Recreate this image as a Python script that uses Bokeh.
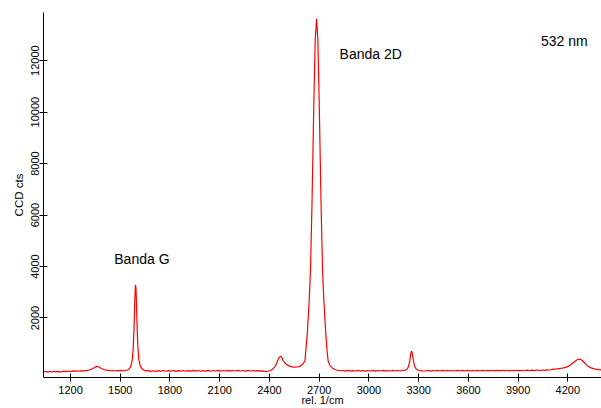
from bokeh.plotting import figure
from bokeh.models import FixedTicker, Label, Range1d
from bokeh.embed import file_html
from bokeh.resources import INLINE

# Raman spectrum (rel. 1/cm, CCD cts)
wavenumber = [
    1037, 1050, 1062, 1075, 1088, 1100, 1112, 1125, 1138, 1150, 1162, 1175, 1188, 1200,
    1212, 1225, 1238, 1250, 1262, 1275, 1288, 1300,
    1312, 1325, 1337, 1350, 1360, 1368, 1378, 1390, 1402, 1415, 1428, 1440, 1452, 1465,
    1478, 1490, 1502, 1515, 1528, 1540,
    1550, 1558, 1565, 1572, 1578, 1583, 1587, 1590, 1592, 1595, 1598, 1602, 1606, 1612,
    1620, 1630, 1642, 1655, 1670, 1685,
    1700, 1715, 1730, 1745, 1760, 1775, 1790, 1805, 1820, 1835, 1850, 1865, 1880, 1895,
    1910, 1925, 1940, 1955, 1970, 1985, 2000, 2015, 2030, 2045, 2060, 2075, 2090, 2105,
    2120, 2135, 2150, 2165, 2180, 2195, 2210, 2225, 2240, 2255, 2270, 2285, 2300, 2315,
    2330, 2345, 2360, 2375, 2390, 2402, 2412, 2422,
    2432, 2442, 2452, 2460, 2467, 2474, 2482, 2492, 2505, 2520, 2535, 2550, 2565, 2578,
    2590, 2600, 2614,
    2628, 2640, 2648, 2657, 2668, 2676, 2684, 2692, 2700, 2711, 2720, 2728, 2740, 2747,
    2754, 2765, 2780, 2795, 2810, 2830,
    2845, 2860, 2875, 2890, 2905, 2920, 2935, 2950, 2965, 2980, 2995, 3010, 3025, 3040,
    3055, 3070, 3085, 3100, 3115, 3130, 3145, 3160, 3175, 3190, 3205, 3220,
    3230, 3238, 3244, 3249, 3253, 3257, 3261, 3265, 3270, 3276, 3284, 3295, 3310, 3325,
    3340,
    3355, 3370, 3385, 3400, 3415, 3430, 3445, 3460, 3475, 3490, 3505, 3520, 3535, 3550,
    3565, 3580, 3595, 3610, 3625, 3640, 3655, 3670, 3685, 3700, 3715, 3730, 3745, 3760,
    3775, 3790, 3805, 3820, 3835, 3850, 3865, 3880, 3895, 3910, 3925, 3940, 3955, 3970,
    3985, 4000, 4015, 4030, 4045, 4060, 4075, 4090, 4105, 4120, 4135, 4150, 4165, 4180,
    4195, 4210, 4225, 4240, 4252, 4262, 4270, 4278, 4288, 4300, 4312, 4325, 4340, 4355,
    4370, 4385, 4403,
]
counts = [
    -95, -70, -105, -80, -100, -70, -95, -75, -105, -80, -65, -90, -60, -80,
    -55, -75, -50, -70, -45, -65, -40, -45,
    -20, 10, 50, 100, 120, 105, 70, 30, 0, -25, -35, -50, -40, -60,
    -40, -55, -35, -55, -40, -30,
    0, 60, 150, 350, 800, 1600, 2500, 3100, 3285, 3150, 2500, 1600, 900, 400,
    150, 40, -20, -55, -45, -75,
    -50, -75, -45, -70, -40, -70, -45, -65, -40, -75, -45, -65, -40, -70,
    -45, -65, -35, -65, -40, -70, -45, -65, -35, -70, -40, -60, -35, -65,
    -40, -60, -35, -65, -40, -60, -35, -60, -40, -65, -35, -60, -40, -65,
    -45, -65, -55, -80, -70, -50, -20, 30,
    100, 220, 380, 480, 520, 470, 360, 260, 180, 130, 100, 90, 95, 110,
    150, 200, 330,
    1380, 2700, 3950, 6550, 10450, 12800, 13630, 12800, 10450, 6550, 3950, 2700, 1380, 750,
    330, 150, 50, 0, -30, -50,
    -40, -65, -35, -65, -45, -60, -35, -65, -40, -65, -40, -60, -35, -65,
    -40, -60, -35, -65, -40, -60, -35, -60, -40, -60, -35, -25,
    20, 100, 250, 450, 620, 716, 640, 480, 280, 120, 30, -20, -45, -60,
    -60,
    -40, -65, -40, -60, -35, -60, -35, -60, -35, -60, -40, -60, -35, -60,
    -35, -60, -35, -60, -35, -60, -35, -60, -35, -60, -35, -55, -30, -55,
    -35, -55, -30, -55, -30, -55, -30, -55, -30, -55, -30, -50, -25, -50,
    -25, -45, -20, -40, -20, -35, -15, -20, 0, 10, 20, 35, 50, 70,
    100, 150, 220, 300, 360, 395, 405, 390, 340, 260, 180, 110, 60, 30,
    10, -5, -15,
]

x_tick_values = [1200, 1500, 1800, 2100, 2400, 2700, 3000, 3300, 3600, 3900, 4200]
y_tick_values = [2000, 4000, 6000, 8000, 10000, 12000]

x_title = "rel. 1/cm"
y_title = "CCD cts"
annotations = ["Banda G", "Banda 2D", "532 nm"]

FONT = "Liberation Sans"

p = figure(width=601, height=408, output_backend="svg", toolbar_location=None,
           x_range=Range1d(1037, 4403), y_range=Range1d(-312, 13870),
           min_border_left=43, min_border_right=0, min_border_top=12,
           min_border_bottom=30)
p.outline_line_color = None
p.grid.visible = False
p.background_fill_color = "white"
p.border_fill_color = "white"

p.line(wavenumber, counts, line_color="#ff0000", line_width=1.2)

for ax in (p.xaxis[0], p.yaxis[0]):
    ax.axis_line_color = "black"
    ax.major_tick_line_color = "black"
    ax.major_tick_in = 4
    ax.major_tick_out = 4
    ax.minor_tick_line_color = None
    ax.major_label_text_font = FONT
    ax.major_label_text_font_size = "11px"
    ax.major_label_text_color = "black"
    ax.axis_label_text_font = FONT
    ax.axis_label_text_font_size = "11.5px"
    ax.axis_label_text_font_style = "normal"
    ax.axis_label_text_color = "black"

p.xaxis[0].ticker = FixedTicker(ticks=x_tick_values)
p.yaxis[0].ticker = FixedTicker(ticks=y_tick_values)
p.xaxis[0].major_label_standoff = 4
p.xaxis[0].axis_label = x_title
p.xaxis[0].axis_label_text_font_size = "11px"
p.xaxis[0].axis_label_standoff = -3
p.yaxis[0].major_label_orientation = "vertical"
p.yaxis[0].major_label_standoff = 0
p.yaxis[0].axis_label = y_title
p.yaxis[0].axis_label_standoff = 4

ann_pos = [(1464, 4305), (2823, 12271), (4038, 12758)]
for txt, (ax_, ay_) in zip(annotations, ann_pos):
    p.add_layout(Label(x=ax_, y=ay_, text=txt, text_align="left",
                       text_baseline="middle", text_font=FONT,
                       text_font_size="14px", text_color="black"))

open("out.html", "w").write(file_html(p, INLINE))
